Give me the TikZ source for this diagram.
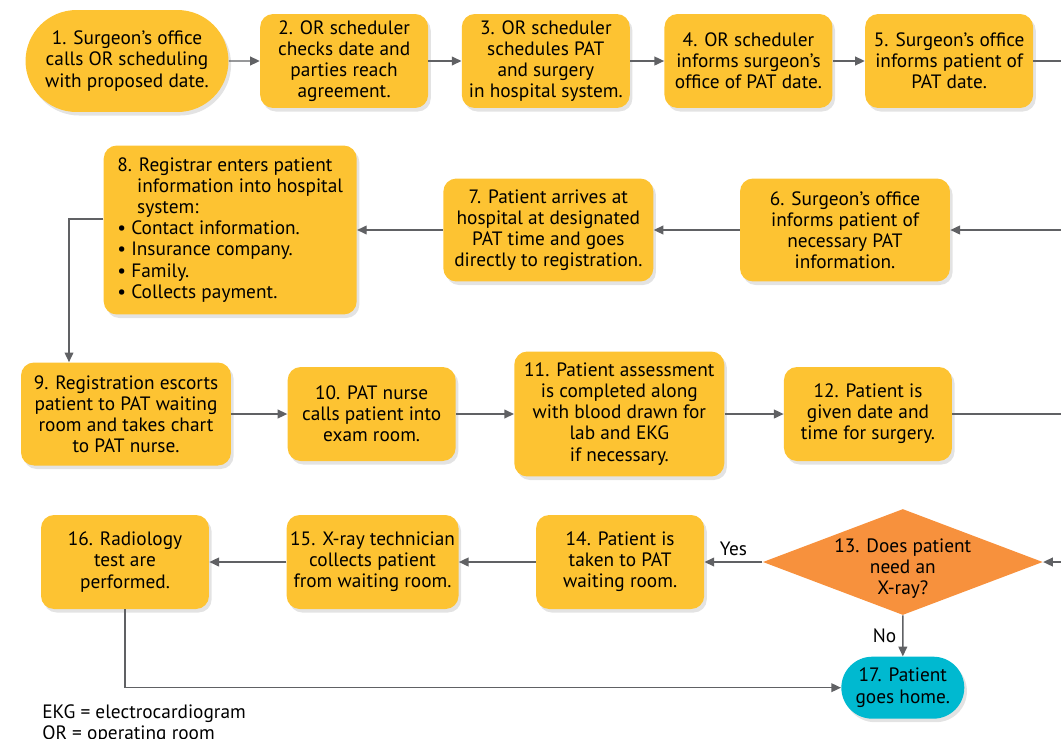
\documentclass[tikz,border=0pt]{standalone}
\usepackage{fontspec}
\setmainfont{PT Sans}
\usepackage{xcolor}
\usepackage{tikz}
\usetikzlibrary{shapes.geometric, shapes.misc, arrows.meta, positioning, shadows}
\definecolor{stepyellow}{HTML}{FDC332}
\definecolor{xrayorange}{HTML}{F7913D}
\definecolor{homecyan}{HTML}{00B9D0}
\definecolor{linegray}{HTML}{606164}
\tikzstyle{shade}    = [drop shadow={opacity=0.22, shadow xshift=1.5pt, shadow yshift=-2pt}]
\tikzstyle{block}    = [rectangle, rounded corners=0.26cm, minimum width=3.36cm,
                        minimum height=1.88cm, align=center, fill=stepyellow,
                        inner sep=2pt, shade]
\tikzstyle{wblock}   = [block, minimum width=4.2cm, minimum height=2.06cm]
\tikzstyle{pill}     = [rounded rectangle, align=center, inner sep=2pt, shade]
\tikzstyle{decision} = [diamond, fill=xrayorange, minimum width=5.6cm,
                        minimum height=2.12cm, inner sep=0pt]
\tikzstyle{arrow}    = [-{Triangle[length=5.5pt, width=5pt]}, line width=0.8pt, draw=linegray]
\tikzstyle{line}     = [line width=0.8pt, draw=linegray]
\begin{document}
\begin{tikzpicture}[x=0.02cm, y=-0.02cm, font=\fontsize{11}{12}\selectfont]
  \useasboundingbox (0,0) rectangle (1061,738);

  % row 1
  \node[pill, fill=stepyellow, minimum width=4.2cm, minimum height=2.04cm] (call) at (127,61)
    {1. Surgeon’s office\\calls OR scheduling\\with proposed date.};
  \node[block, right=0.62cm of call] (agree)
    {2. OR scheduler\\checks date and\\parties reach\\agreement.};
  \node[block, right=0.66cm of agree] (sched)
    {3. OR scheduler\\schedules PAT\\and surgery\\in hospital system.};
  \node[block, right=0.68cm of sched] (inform)
    {4. OR scheduler\\informs surgeon’s\\office of PAT date.};
  \node[block, right=0.64cm of inform] (patdate)
    {5. Surgeon’s office\\informs patient of\\PAT date.};

  % row 2
  \node[wblock] (patinfo) at (845,230)
    {6. Surgeon’s office\\informs patient of\\necessary PAT\\information.};
  \node[wblock, left=1.72cm of patinfo] (arrive)
    {7. Patient arrives at\\hospital at designated\\PAT time and goes\\directly to registration.};
  \node[block, left=1.72cm of arrive, minimum width=5.06cm, minimum height=3.38cm,
        align=left] (reg)
    {8. Registrar enters patient\\\phantom{8.\ }information into hospital\\\phantom{8.\ }system:\\
     \textbullet{} Contact information.\\\textbullet{} Insurance company.\\
     \textbullet{} Family.\\\textbullet{} Collects payment.};

  % row 3
  \node[wblock] (escort) at (126,414)
    {9. Registration escorts\\patient to PAT waiting\\room and takes chart\\to PAT nurse.};
  \node[block, right=1.12cm of escort] (nurse)
    {10. PAT nurse\\calls patient into\\exam room.};
  \node[wblock, right=1.16cm of nurse, minimum height=2.5cm] (assess)
    {11. Patient assessment\\is completed along\\with blood drawn for\\lab and EKG\\if necessary.};
  \node[block, right=1.18cm of assess] (given)
    {12. Patient is\\given date and\\time for surgery.};

  % row 4
  \node[block] (radio) at (125,562)
    {16. Radiology\\test are\\performed.};
  \node[block, right=1.54cm of radio] (tech)
    {15. X-ray technician\\collects patient\\from waiting room.};
  \node[block, right=1.54cm of tech] (wait)
    {14. Patient is\\taken to PAT\\waiting room.};
  \node[decision, right=1.16cm of wait] (xray) {};
  \node[align=center, yshift=-0.14cm] (xraytext) at (xray)
    {13. Does patient\\need an\\X-ray?};
  \node[pill, fill=homecyan, below=0.82cm of xray, minimum width=2.6cm,
        minimum height=1.24cm] (home)
    {17. Patient\\goes home.};

  \node[anchor=north west, align=left, inner sep=0pt] (legend) at (42,704)
    {EKG = electrocardiogram\\OR = operating room};

  % page edge
  \coordinate (out1) at (1061,61);
  \coordinate (in2)  at (1061,230);
  \coordinate (out3) at (1061,414);
  \coordinate (in4)  at (1061,562);

  \draw[arrow] (call) -- (agree);
  \draw[arrow] (agree) -- (sched);
  \draw[arrow] (sched) -- (inform);
  \draw[arrow] (inform) -- (patdate);
  \draw[line] (patdate) -- (out1);

  \draw[arrow] (in2) -- (patinfo);
  \draw[arrow] (patinfo) -- (arrive);
  \draw[arrow] (arrive) -- (reg);
  \draw[arrow] ([yshift=0.22cm]reg.west) -| ([xshift=-1.14cm]escort.north);

  \draw[arrow] (escort) -- (nurse);
  \draw[arrow] (nurse) -- (assess);
  \draw[arrow] (assess) -- (given);
  \draw[line] (given) -- (out3);

  \draw[arrow] (in4) -- (xray);
  \draw[arrow] (xray) -- node[above]{Yes} (wait);
  \draw[arrow] (wait) -- (tech);
  \draw[arrow] (tech) -- (radio);
  \draw[arrow] (xray) -- node[left]{No} (home);
  \draw[arrow] (radio) |- (home);
\end{tikzpicture}
\end{document}
